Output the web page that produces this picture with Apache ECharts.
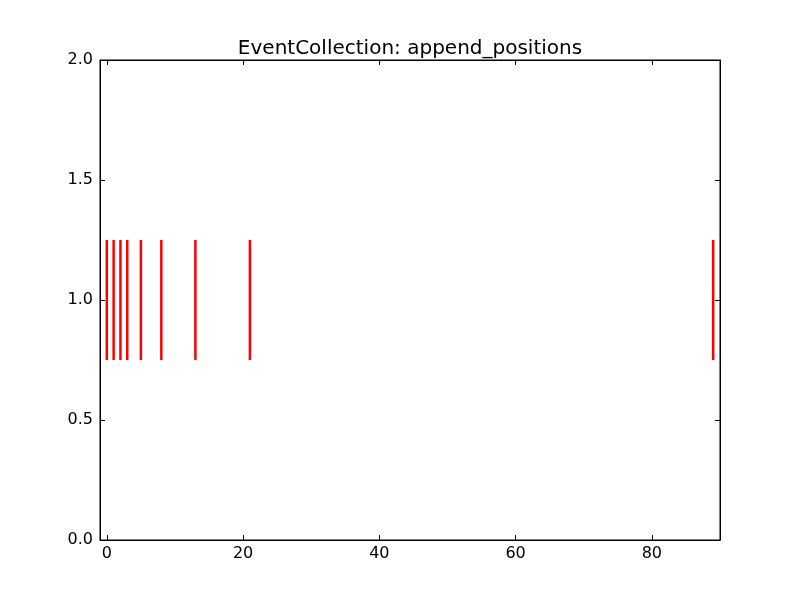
<!DOCTYPE html>
<html>
<head>
<meta charset="utf-8">
<script src="https://cdn.jsdelivr.net/npm/echarts@6/dist/echarts.min.js"></script>
<style>html,body{margin:0;padding:0;background:#fff}#c{width:800px;height:600px}</style>
</head>
<body>
<div id="c"></div>
<script>
const positions = [0, 1, 2, 3, 5, 8, 13, 21, 89];
const lineOffset = 1.0;
const lineLength = 0.5;
const xTicks = [0, 20, 40, 60, 80];
const yTicks = [0.0, 0.5, 1.0, 1.5, 2.0];

const chart = echarts.init(document.getElementById('c'));
const font = 'DejaVu Sans';
const tickStyle = { show: true, inside: true, length: 5, lineStyle: { color: '#000', width: 1 } };
chart.setOption({
  animation: false,
  title: { text: 'EventCollection: append_positions', left: 405, textAlign: 'center', top: 34,
    textStyle: { fontFamily: font, fontSize: 20, fontWeight: 'normal', color: '#000' } },
  grid: { left: 100, right: 80, top: 60, bottom: 60, show: true, borderColor: '#000', borderWidth: 1 },
  xAxis: [
    { type: 'value', min: -1, max: 90, position: 'bottom',
      axisLine: { show: true, onZero: false, lineStyle: { color: '#000' } },
      splitLine: { show: false },
      axisLabel: { fontFamily: font, fontSize: 16, color: '#000', margin: 6,
        customValues: xTicks },
      axisTick: Object.assign({}, tickStyle, { customValues: xTicks }) },
    { type: 'value', min: -1, max: 90, position: 'top',
      axisLine: { show: true, onZero: false, lineStyle: { color: '#000' } },
      axisTick: Object.assign({}, tickStyle, { customValues: xTicks }),
      axisLabel: { show: false }, splitLine: { show: false } }
  ],
  yAxis: [
    { type: 'value', min: 0, max: 2, position: 'left',
      axisLine: { show: true, onZero: false, lineStyle: { color: '#000' } },
      axisTick: Object.assign({}, tickStyle, { customValues: yTicks }), splitLine: { show: false },
      axisLabel: { fontFamily: font, fontSize: 16, color: '#000', margin: 7,
        customValues: yTicks, formatter: v => Number(v).toFixed(1) } },
    { type: 'value', min: 0, max: 2, position: 'right',
      axisLine: { show: true, onZero: false, lineStyle: { color: '#000' } },
      axisTick: Object.assign({}, tickStyle, { customValues: yTicks }),
      axisLabel: { show: false }, splitLine: { show: false } }
  ],
  series: [{
    type: 'custom',
    xAxisIndex: 0, yAxisIndex: 0,
    data: positions.map(p => [p]),
    renderItem: function (params, api) {
      const x = api.value(0);
      const p1 = api.coord([x, lineOffset - lineLength / 2]);
      const p2 = api.coord([x, lineOffset + lineLength / 2]);
      return { type: 'line', shape: { x1: p1[0], y1: p1[1], x2: p2[0], y2: p2[1] },
        style: { stroke: '#ff0000', lineWidth: 2.5 } };
    }
  }]
});
</script>
</body>
</html>
